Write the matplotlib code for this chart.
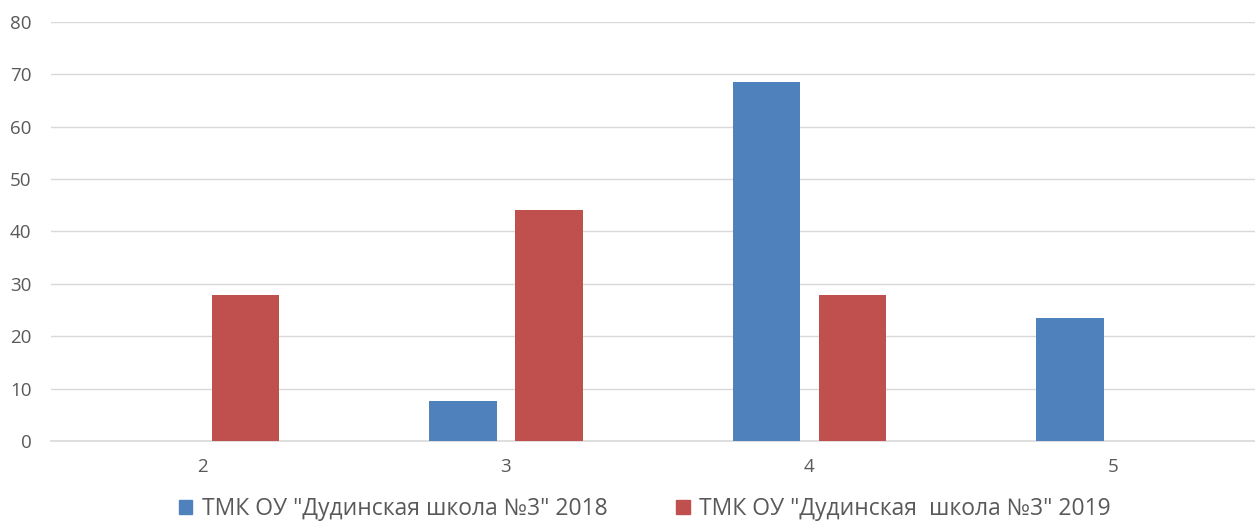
import numpy as np
import matplotlib.pyplot as plt
from matplotlib.patches import Patch

categories = ["2", "3", "4", "5"]
school_2018 = [0, 7.7, 68.6, 23.4]
school_2019 = [27.8, 44.2, 27.8, 0]
labels = ['ТМК ОУ "Дудинская школа №3" 2018', 'ТМК ОУ "Дудинская  школа №3" 2019']

blue = "#4F81BD"
red = "#C0504D"
text_col = "#595959"

plt.rcParams['font.family'] = ['Open Sans', 'DejaVu Sans']

fig = plt.figure(figsize=(12.55, 5.23), dpi=100)
ax = fig.add_axes([50.75 / 1255, 1 - 441 / 523, 1214 / 1255, 419 / 523])

x = np.arange(len(categories))
w = 0.224
off = 0.1417
b1 = [v if v > 0 else np.nan for v in school_2018]
b2 = [v if v > 0 else np.nan for v in school_2019]
ax.bar(x - off, b1, w, color=blue, zorder=3)
ax.bar(x + off, b2, w, color=red, zorder=3)

ax.set_xlim(-0.5, len(categories) - 0.5)
ax.set_ylim(0, 80)
ax.set_yticks(range(0, 81, 10))
ax.set_xticks(x)
ax.set_xticklabels(categories)
ax.yaxis.grid(True, color="#D9D9D9", linewidth=1)
ax.axhline(0, color="#D9D9D9", linewidth=1.2, zorder=2, clip_on=False)
ax.set_axisbelow(True)
for s in ax.spines.values():
    s.set_visible(False)
ax.tick_params(axis='both', length=0, labelsize=13.5, colors=text_col)
ax.tick_params(axis='y', pad=14)
ax.tick_params(axis='x', pad=12)

handles = [Patch(color=blue), Patch(color=red)]
leg = fig.legend(handles, labels, loc='center', bbox_to_anchor=(644.5 / 1255, 1 - 509 / 523),
                 ncol=2, frameon=False, fontsize=16.5, handlelength=0.6, handleheight=0.6,
                 handletextpad=0.4, columnspacing=3.0)
for t in leg.get_texts():
    t.set_color(text_col)

fig.savefig("out.png", dpi=100)
